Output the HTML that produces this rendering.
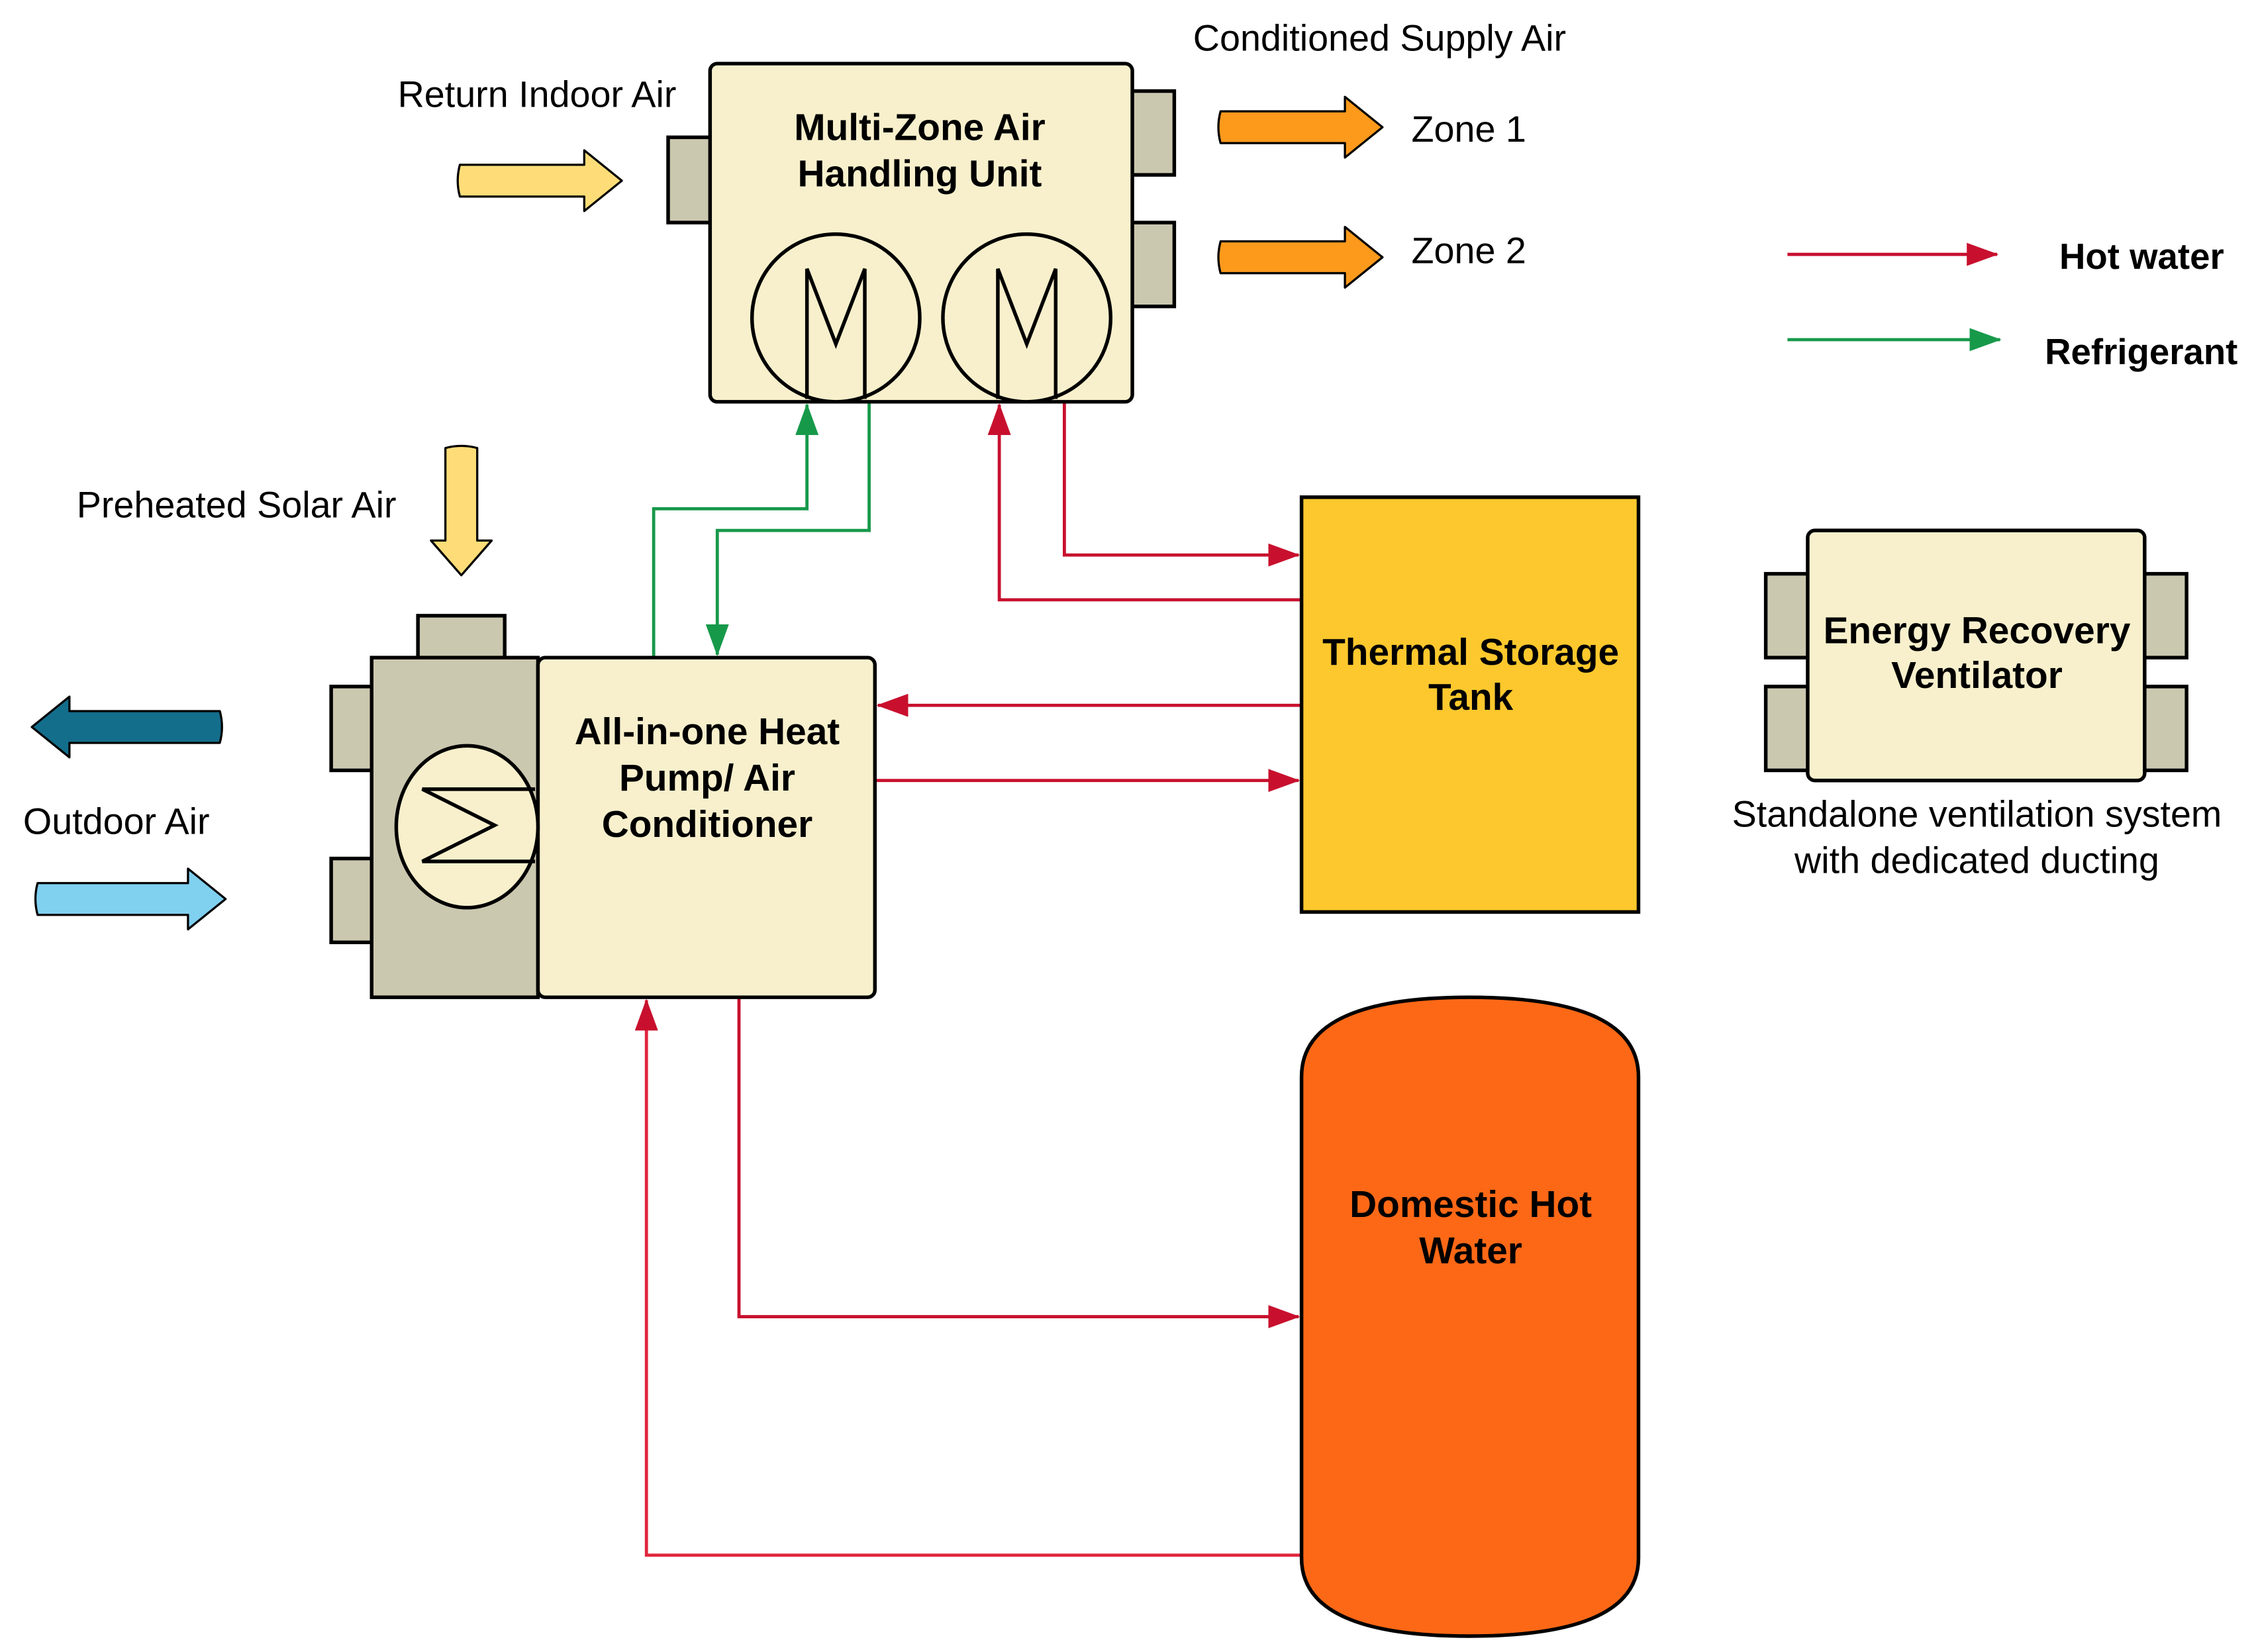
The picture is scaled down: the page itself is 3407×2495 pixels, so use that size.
<!DOCTYPE html>
<html><head><meta charset="utf-8"><style>
html,body{margin:0;padding:0;background:#fff;}
svg{display:block;}
text{font-family:"Liberation Sans",sans-serif;}
</style></head><body>
<svg width="3407" height="2495" viewBox="0 0 1560 1143" preserveAspectRatio="none" xmlns="http://www.w3.org/2000/svg">
<defs>
<marker id="arL" markerWidth="22" markerHeight="16" refX="21" refY="8" orient="auto" markerUnits="userSpaceOnUse" viewBox="0 0 22 16"><path d="M0,0 L22,8 L0,16 z" fill="#c8102e"/></marker>
<marker id="agL" markerWidth="22" markerHeight="16" refX="21" refY="8" orient="auto" markerUnits="userSpaceOnUse" viewBox="0 0 22 16"><path d="M0,0 L22,8 L0,16 z" fill="#17994a"/></marker>
</defs>
<g fill="none" stroke-width="2.2">
<path d="M452,455 V352 H558 V280" stroke="#17994a" marker-end="url(#agL)"/>
<path d="M601,278 V367 H496 V453" stroke="#17994a" marker-end="url(#agL)"/>
<path d="M736,278 V384 H898" stroke="#c8102e" marker-end="url(#arL)"/>
<path d="M900,415 H691 V280" stroke="#c8102e" marker-end="url(#arL)"/>
<path d="M900,488 H607" stroke="#c8102e" marker-end="url(#arL)"/>
<path d="M605,540 H898" stroke="#c8102e" marker-end="url(#arL)"/>
<path d="M511,690 V911 H898" stroke="#c8102e" marker-end="url(#arL)"/>
<path d="M900,1076 H447 V692" stroke="#e0263e" marker-end="url(#arL)"/>
<path d="M1236,176 H1381" stroke="#c8102e" marker-end="url(#arL)"/>
<path d="M1236,235 H1383" stroke="#17994a" marker-end="url(#agL)"/>
</g>
<text x="1424" y="186" font-size="25" font-weight="bold">Hot water</text>
<text x="1414" y="252" font-size="25" font-weight="bold">Refrigerant</text>

<g stroke="#000" stroke-width="2.5">
<rect x="462" y="95" width="30" height="59" fill="#cbc8b0"/>
<rect x="782" y="63" width="30" height="58" fill="#cbc8b0"/>
<rect x="782" y="154" width="30" height="58" fill="#cbc8b0"/>
<rect x="491" y="44" width="292" height="234" rx="5" fill="#f8f0cc"/>
<circle cx="578" cy="220" r="58" fill="#f8f0cc"/>
<circle cx="710" cy="220" r="58" fill="#f8f0cc"/>
<path d="M558,276 V186 L578,238 L598,186 V276" fill="none"/>
<path d="M690,276 V186 L710,238 L730,186 V276" fill="none"/>
</g>
<text x="636" y="97" font-size="26" font-weight="bold" text-anchor="middle">Multi-Zone Air</text>
<text x="636" y="129" font-size="26" font-weight="bold" text-anchor="middle">Handling Unit</text>

<text x="275" y="74" font-size="25.5">Return Indoor Air</text>
<text x="825" y="35" font-size="25.5">Conditioned Supply Air</text>
<text x="976" y="98" font-size="25.5">Zone 1</text>
<text x="976" y="182" font-size="25.5">Zone 2</text>
<text x="53" y="358" font-size="25.5">Preheated Solar Air</text>
<text x="16" y="577" font-size="25.5">Outdoor Air</text>

<g stroke="#000" stroke-width="1.5" stroke-linejoin="round">
<path d="M318,114 H404 V104 L430,125 L404,146 V136 H318 Q315,125 318,114 z" fill="#fedd78"/>
<path d="M844,77 H930 V67 L956,88 L930,109 V99 H844 Q841,88 844,77 z" fill="#fd9a1c"/>
<path d="M844,167 H930 V157 L956,178 L930,199 V189 H844 Q841,178 844,167 z" fill="#fd9a1c"/>
<path d="M308,310 Q319,307 330,310 V374 H340 L319,398 L298,374 H308 z" fill="#fedd78"/>
<path d="M152,492 H48 V482 L22,503 L48,524 V514 H152 Q155,503 152,492 z" fill="#136e8c"/>
<path d="M26,611 H130 V601 L156,622 L130,643 V633 H26 Q23,622 26,611 z" fill="#80d0f0"/>
</g>

<g stroke="#000" stroke-width="2.5">
<rect x="289" y="426" width="60" height="29" fill="#cbc8b0"/>
<rect x="229" y="475" width="29" height="58" fill="#cbc8b0"/>
<rect x="229" y="594" width="29" height="58" fill="#cbc8b0"/>
<rect x="257" y="455" width="115" height="235" fill="#cbc8b0"/>
<rect x="372" y="455" width="233" height="235" rx="5" fill="#f8f0cc"/>
<ellipse cx="323" cy="572" rx="49" ry="56" fill="#f8f0cc"/>
<path d="M370,596 H292 L342,571 L292,546 H370" fill="none"/>
</g>
<text x="489" y="515" font-size="26" font-weight="bold" text-anchor="middle">All-in-one Heat</text>
<text x="489" y="547" font-size="26" font-weight="bold" text-anchor="middle">Pump/ Air</text>
<text x="489" y="579" font-size="26" font-weight="bold" text-anchor="middle">Conditioner</text>

<rect x="900" y="344" width="233" height="287" fill="#fdc82d" stroke="#000" stroke-width="2.5"/>
<text x="1017" y="460" font-size="26" font-weight="bold" text-anchor="middle">Thermal Storage</text>
<text x="1017" y="491" font-size="26" font-weight="bold" text-anchor="middle">Tank</text>

<path d="M900,745 Q900,690 1016,690 Q1133,690 1133,745 V1078 Q1133,1132 1016,1132 Q900,1132 900,1078 z" fill="#fd6816" stroke="#000" stroke-width="2.5"/>
<text x="1017" y="842" font-size="26" font-weight="bold" text-anchor="middle">Domestic Hot</text>
<text x="1017" y="874" font-size="26" font-weight="bold" text-anchor="middle">Water</text>

<g stroke="#000" stroke-width="2.5">
<rect x="1221" y="397" width="30" height="58" fill="#cbc8b0"/>
<rect x="1221" y="475" width="30" height="58" fill="#cbc8b0"/>
<rect x="1482" y="397" width="30" height="58" fill="#cbc8b0"/>
<rect x="1482" y="475" width="30" height="58" fill="#cbc8b0"/>
<rect x="1250" y="367" width="233" height="173" rx="5" fill="#f8f0cc"/>
</g>
<text x="1367" y="445" font-size="26" font-weight="bold" text-anchor="middle">Energy Recovery</text>
<text x="1367" y="476" font-size="26" font-weight="bold" text-anchor="middle">Ventilator</text>
<text x="1367" y="572" font-size="25.5" text-anchor="middle">Standalone ventilation system</text>
<text x="1367" y="604" font-size="25.5" text-anchor="middle">with dedicated ducting</text>
</svg>
</body></html>
